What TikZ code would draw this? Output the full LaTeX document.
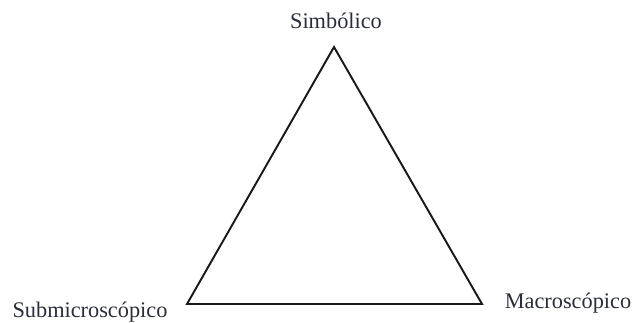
\documentclass[tikz,border=0pt]{standalone}
\usepackage{fontspec}
\setmainfont{Liberation Serif}
\usepackage{xcolor}
\definecolor{labelgray}{HTML}{2A2E3A}

\begin{document}
\begin{tikzpicture}[x=0.02cm,y=-0.02cm,
    vertexlabel/.style={text=labelgray,font=\fontsize{12.7}{15}\selectfont,inner sep=0pt}]
    \useasboundingbox (0,0) rectangle (635,322);
        \coordinate (top) at (334,47);
        \coordinate (left) at (187,304);
        \coordinate (right) at (482,304);
        \draw[line width=1.1pt,black!90](top)--(right)--(left)--cycle;
        \node (simb) at (336,21)[vertexlabel]{Simbólico};
        \node (submicro) at (90,312)[vertexlabel]{Submicroscópico};
        \node (macro) at (568,303)[vertexlabel]{Macroscópico};
    \end{tikzpicture}
\end{document}
